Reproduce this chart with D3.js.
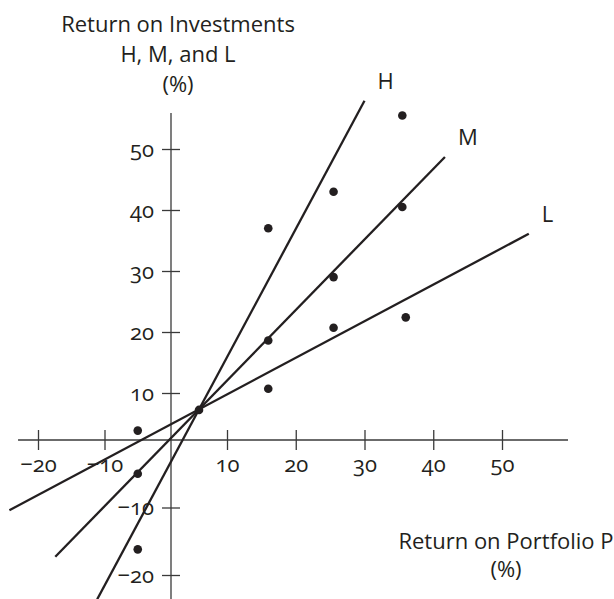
<!DOCTYPE html>
<html>
<head>
<meta charset="utf-8">
<script src="https://cdn.jsdelivr.net/npm/d3@7"></script>
<style>
    body { margin: 0; background: #fff; }
    text {
        font-family: "Open Sans", sans-serif;
        fill: #231f20;
        font-variant-numeric: oldstyle-nums;
        font-feature-settings: "onum";
    }
</style>
</head>
<body>
<script>
"use strict";

// tick values on both axes
var xTicks = [-20, -10, 10, 20, 30, 40, 50];
var yTicks = [-20, -10, 10, 20, 30, 40, 50];

// observed returns: portfolio P (x) vs investment (y)
var portfolioReturns = [35.5, 25.5, 35.5, 16, 25.5, 25.5, 36, 16, 16, 5, -5, -5, -5];
var investmentReturns = [55.5, 43, 40.5, 37, 29, 20.7, 22.4, 18.6, 10.7, 6.4, 2, -5, -16.2];

// characteristic lines H, M, L (start / end in data units)
var lineNames = ["H", "M", "L"];
var lineStarts = [[-11.1, -23.6], [-17.4, -17.3], [-24.3, -10.4]];
var lineEnds = [[30, 57.9], [41.7, 48.7], [53.9, 36.1]];

// how far the drawn axes run
var xAxisExtent = [-23, 59.6];
var yAxisExtent = [-24, 55.9];

var width = 614;
var height = 599;
var ink = "#231f20";
var fontSize = 22;

// the printed figure has slightly uneven tick spacing near the origin,
// so both scales are piecewise linear
var x = d3.scaleLinear().domain([-20, 0, 10, 50]).range([38, 171, 227, 502]);
var y = d3.scaleLinear().domain([-20, 0, 10, 50]).range([575, 440, 393, 149]);

var svg = d3.select("body")
    .append("svg")
    .attr("width", width)
    .attr("height", height);

// x axis
var xAxis = svg.append("g")
    .attr("class", "x-axis")
    .attr("transform", "translate(0," + y(0) + ")")
    .call(d3.axisBottom(x).tickValues(xTicks).tickSize(0));
xAxis.select(".domain").remove();
xAxis.selectAll(".tick line")
    .attr("y1", -10)
    .attr("y2", 10)
    .attr("stroke", "#3a3a3a")
    .attr("stroke-width", 1.3);
xAxis.selectAll(".tick text")
    .attr("y", 32)
    .attr("dy", null)
    .attr("font-size", fontSize)
    .attr("font-family", null)
    .attr("fill", null);
xAxis.append("line")
    .attr("x1", x(xAxisExtent[0]))
    .attr("x2", x(xAxisExtent[1]))
    .attr("stroke", "#3a3a3a")
    .attr("stroke-width", 1.3);

// y axis
var yAxis = svg.append("g")
    .attr("class", "y-axis")
    .attr("transform", "translate(" + x(0) + ",0)")
    .call(d3.axisLeft(y).tickValues(yTicks).tickSize(0));
yAxis.select(".domain").remove();
yAxis.selectAll(".tick line")
    .attr("x1", -9)
    .attr("x2", 9)
    .attr("stroke", "#3a3a3a")
    .attr("stroke-width", 1.3);
yAxis.selectAll(".tick text")
    .attr("x", -17)
    .attr("dy", "0.34em")
    .attr("font-size", fontSize)
    .attr("font-family", null)
    .attr("fill", null);
yAxis.append("line")
    .attr("y1", y(yAxisExtent[0]))
    .attr("y2", y(yAxisExtent[1]))
    .attr("stroke", "#3a3a3a")
    .attr("stroke-width", 1.3);

// H, M, L lines
var lines = lineNames.map(function(name, i) {
    return { "name": name, "start": lineStarts[i], "end": lineEnds[i] };
});

svg.append("g")
    .attr("class", "lines")
    .selectAll("line")
    .data(lines)
    .enter()
    .append("line")
    .attr("x1", function(d) { return x(d.start[0]); })
    .attr("y1", function(d) { return y(d.start[1]); })
    .attr("x2", function(d) { return x(d.end[0]); })
    .attr("y2", function(d) { return y(d.end[1]); })
    .attr("stroke", ink)
    .attr("stroke-width", 2.3);

svg.append("g")
    .attr("class", "line-labels")
    .selectAll("text")
    .data(lines)
    .enter()
    .append("text")
    .attr("x", function(d) { return x(d.end[0]) + 13; })
    .attr("y", function(d) { return y(d.end[1]) - 12; })
    .attr("font-size", fontSize)
    .text(function(d) { return d.name; });

// observations
svg.append("g")
    .attr("class", "points")
    .selectAll("circle")
    .data(portfolioReturns)
    .enter()
    .append("circle")
    .attr("cx", function(d) { return x(d); })
    .attr("cy", function(d, i) { return y(investmentReturns[i]); })
    .attr("r", 4.3)
    .attr("fill", ink);

// axis titles
var yTitle = svg.append("text")
    .attr("class", "y-title")
    .attr("text-anchor", "middle")
    .attr("font-size", fontSize);
["Return on Investments", "H, M, and L", "(%)"].forEach(function(t, i) {
    yTitle.append("tspan")
        .attr("x", 178)
        .attr("y", 32 + i * 30)
        .text(t);
});

var xTitle = svg.append("text")
    .attr("class", "x-title")
    .attr("text-anchor", "middle")
    .attr("font-size", fontSize);
["Return on Portfolio P", "(%)"].forEach(function(t, i) {
    xTitle.append("tspan")
        .attr("x", 506)
        .attr("y", 549 + i * 28)
        .text(t);
});
</script>
</body>
</html>
